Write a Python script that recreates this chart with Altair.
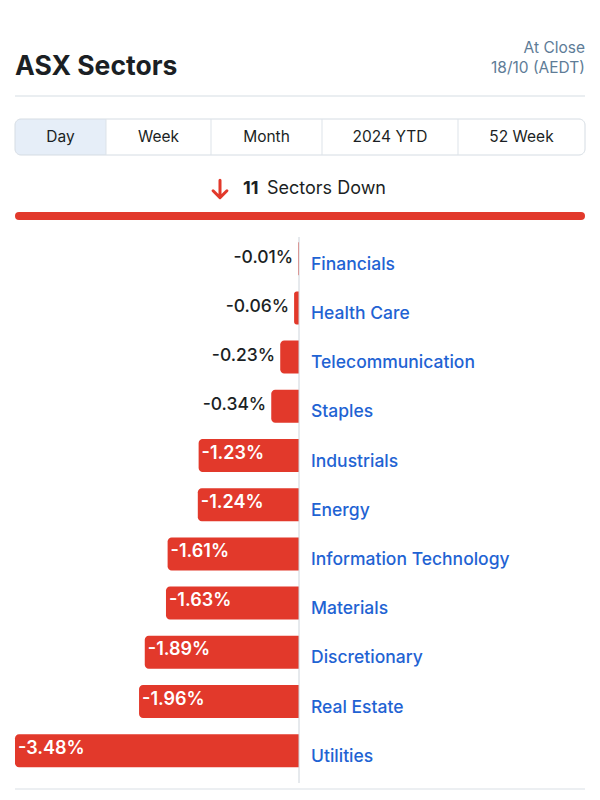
import altair as alt
import pandas as pd

# ---- data ----
sectors = ["Financials", "Health Care", "Telecommunication", "Staples", "Industrials",
           "Energy", "Information Technology", "Materials", "Discretionary", "Real Estate", "Utilities"]
changes = [-0.01, -0.06, -0.23, -0.34, -1.23, -1.24, -1.61, -1.63, -1.89, -1.96, -3.48]
buttons = ["Day", "Week", "Month", "2024 YTD", "52 Week"]
title_text = "ASX Sectors"
close_lines = ["At Close", "18/10 (AEDT)"]
summary_count = "11"
summary_text = "Sectors Down"

# ---- styling / layout ----
RED = "#E2392B"
BLUE = "#1F63D3"
DARK = "#1B1F24"
FONT = "Inter"

df = pd.DataFrame({"sector": sectors, "change": changes})
df["label"] = df["change"].map(lambda v: f"{v:.2f}%")
df["inside"] = df["change"].abs() > 1

xscale = alt.Scale(domain=[-3.48, 0], range=[7, 291])
yscale = alt.Scale(domain=sectors, range=[226.1, 767.3], paddingInner=0.33, paddingOuter=0.165)

base = alt.Chart(df)
X = alt.X("change:Q", scale=xscale, axis=None)
Y = alt.Y("sector:N", scale=yscale, axis=None, sort=sectors)

bars = base.mark_bar(color=RED, cornerRadiusTopLeft=4, cornerRadiusBottomLeft=4).encode(
    x=X, x2=alt.datum(0), y=Y
)
lab_in = base.transform_filter("datum.inside").mark_text(
    align="left", baseline="middle", dx=3, dy=-2, color="white", font=FONT, fontSize=18, fontWeight=600
).encode(x=X, y=Y, text="label:N")
lab_out = base.transform_filter("!datum.inside").mark_text(
    align="right", baseline="middle", dx=-5, dy=-1, color=DARK, font=FONT, fontSize=17.5, fontWeight=500
).encode(x=X, y=Y, text="label:N")
cat = base.mark_text(
    align="left", baseline="middle", dy=6, color=BLUE, font=FONT, fontSize=17.5, fontWeight=500
).encode(x=alt.value(303), y=Y, text="sector:N")

one = pd.DataFrame({"a": [0]})
c1 = alt.Chart(one)

zero_rule = c1.mark_rule(color="#CDD4DB", strokeWidth=1).encode(
    x=alt.value(291), y=alt.value(229), y2=alt.value(775)
)
bottom_rule = c1.mark_rule(color="#E6EAEE", strokeWidth=1.5).encode(
    x=alt.value(7), x2=alt.value(577), y=alt.value(781)
)
header_rule = c1.mark_rule(color="#E3E8EC", strokeWidth=1.5).encode(
    x=alt.value(7), x2=alt.value(577), y=alt.value(88)
)

title = c1.mark_text(align="left", baseline="middle", font=FONT, fontSize=26.5, fontWeight="bold",
                     color=DARK).encode(x=alt.value(7), y=alt.value(59), text=alt.value(title_text))
close1 = c1.mark_text(align="right", baseline="middle", font=FONT, fontSize=15.5, color="#5E7C97").encode(
    x=alt.value(577), y=alt.value(40), text=alt.value(close_lines[0]))
close2 = c1.mark_text(align="right", baseline="middle", font=FONT, fontSize=15.5, color="#5E7C97").encode(
    x=alt.value(577), y=alt.value(60), text=alt.value(close_lines[1]))

# button bar
btn_edges = [7, 98, 203, 314, 450, 577]
sel_fill = c1.mark_rect(fill="#E6EEF8", cornerRadiusTopLeft=6, cornerRadiusBottomLeft=6).encode(
    x=alt.value(7), x2=alt.value(98), y=alt.value(111), y2=alt.value(147))
btn_box = c1.mark_rect(fillOpacity=0, stroke="#D5DCE3", strokeWidth=1, cornerRadius=6).encode(
    x=alt.value(7), x2=alt.value(577), y=alt.value(111), y2=alt.value(147))
btn_layers = []
for i, name in enumerate(buttons):
    x0, x1 = btn_edges[i], btn_edges[i + 1]
    btn_layers.append(c1.mark_text(baseline="middle", align="center", font=FONT, fontSize=15.5, color=DARK).encode(
        x=alt.value((x0 + x1) / 2), y=alt.value(129), text=alt.value(name)))
    if i > 0:
        btn_layers.append(c1.mark_rule(color="#DDE3E9").encode(
            x=alt.value(x0), y=alt.value(111), y2=alt.value(147)))

# summary
arrow = c1.mark_point(
    shape="M0,-1 L0,0.95 M-0.8,0.2 L0,1 L0.8,0.2", filled=False, size=300,
    stroke=RED, strokeWidth=3, strokeCap="round", strokeJoin="round", opacity=1
).encode(x=alt.value(212), y=alt.value(181))
count = c1.mark_text(align="left", baseline="middle", font=FONT, fontSize=18, fontWeight="bold", color=DARK).encode(
    x=alt.value(235), y=alt.value(181), text=alt.value(summary_count))
stext = c1.mark_text(align="left", baseline="middle", font=FONT, fontSize=18, color=DARK).encode(
    x=alt.value(259), y=alt.value(181), text=alt.value(summary_text))
red_bar = c1.mark_rule(color=RED, strokeWidth=8, strokeCap="round").encode(
    x=alt.value(11), x2=alt.value(573), y=alt.value(208))

chart = alt.layer(
    header_rule, title, close1, close2,
    sel_fill, btn_box, *btn_layers,
    arrow, count, stext, red_bar,
    bars, zero_rule, lab_in, lab_out, cat, bottom_rule,
).properties(
    width=584, height=784, autosize=alt.AutoSizeParams(type="none"), padding=0, background="white"
).configure_view(strokeWidth=0)

chart.save("out.html", embed_options={"renderer": "svg", "actions": False})
